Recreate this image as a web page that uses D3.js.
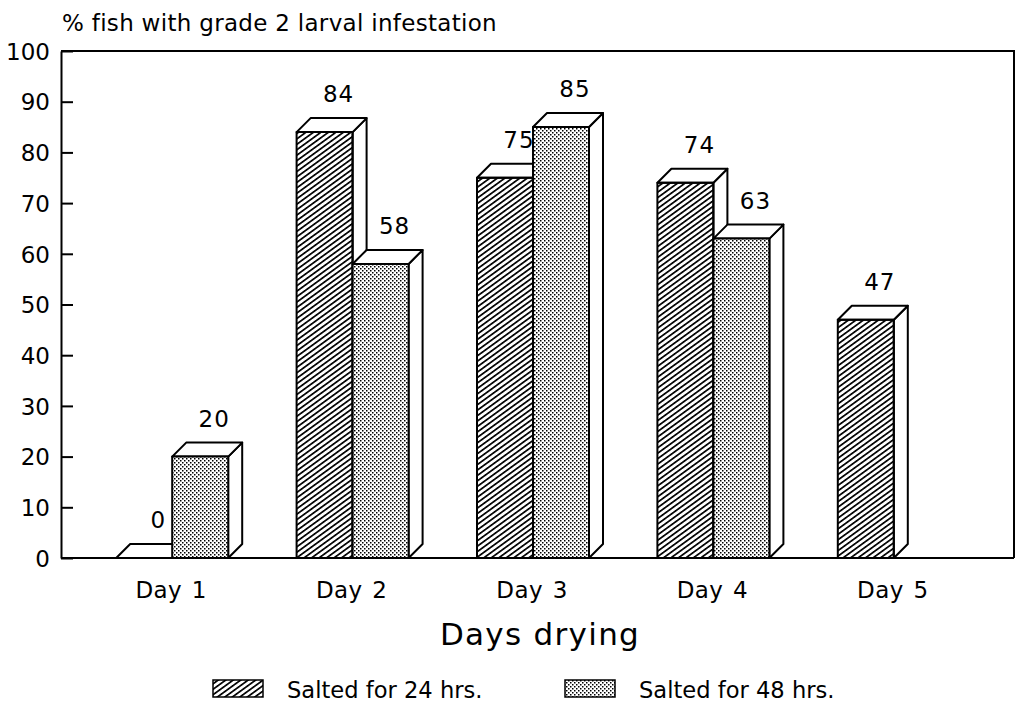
<!DOCTYPE html>
<html>
<head>
<meta charset="utf-8">
<script src="https://cdn.jsdelivr.net/npm/d3@7"></script>
<style>
  body { margin: 0; background: #fff; }
  text { font-family: "DejaVu Sans", sans-serif; fill: #000; }
</style>
</head>
<body>
<svg id="chart" width="1016" height="722"></svg>
<script>
// data
const days = ['Day 1', 'Day 2', 'Day 3', 'Day 4', 'Day 5'];
const salted24 = [0, 84, 75, 74, 47];
const salted48 = [20, 58, 85, 63, null];
const seriesNames = ['Salted for 24 hrs.', 'Salted for 48 hrs.'];
const yTicks = [0, 10, 20, 30, 40, 50, 60, 70, 80, 90, 100];

const svg = d3.select('#chart');
const plotL = 61, plotR = 1014, plotT = 51, plotB = 558;
const dx = 14, dy = 14;   // depth of the 3d boxes

// patterns
const defs = svg.append('defs');
defs.append('pattern')
    .attr('id', 'hatch')
    .attr('patternUnits', 'userSpaceOnUse')
    .attr('width', 8).attr('height', 4.4)
    .attr('patternTransform', 'rotate(-36)')
  .append('rect')
    .attr('width', 8).attr('height', 1.7)
    .attr('fill', '#000');

const dots = defs.append('pattern')
    .attr('id', 'dots')
    .attr('patternUnits', 'userSpaceOnUse')
    .attr('width', 4).attr('height', 4);
dots.append('rect').attr('width', 4).attr('height', 4).attr('fill', '#fff');
dots.append('rect').attr('x', 0).attr('y', 0).attr('width', 1.5).attr('height', 1.5).attr('fill', '#000');
dots.append('rect').attr('x', 2).attr('y', 2).attr('width', 1.5).attr('height', 1.5).attr('fill', '#000');

const fills = ['url(#hatch)', 'url(#dots)'];

const y = d3.scaleLinear().domain([0, 100]).range([plotB, plotT]);
const x0 = d3.scaleBand().domain(days).range([82, 984]);
const x1 = d3.scaleBand().domain(seriesNames).range([0, 112]);
const bw = x1.bandwidth();

// frame lines
const frame = svg.append('g').attr('stroke', '#000').attr('stroke-width', 2).attr('fill', 'none');
frame.append('path').attr('d', `M${plotL},${y(100)}H${plotR}V${y(0)}`);

// left axis, ticks point inward
const yAxis = svg.append('g')
    .attr('transform', `translate(${plotL},0)`)
    .call(d3.axisLeft(y).tickValues(yTicks).tickSizeInner(-12).tickSizeOuter(0).tickPadding(11));
yAxis.attr('font-family', null).attr('font-size', null);
yAxis.selectAll('line, path').attr('stroke', '#000').attr('stroke-width', 2);
yAxis.selectAll('text').style('font-size', '23px').attr('dy', '0.36em');

// bars
const rows = days.map((d, i) => ({ day: d, vals: [salted24[i], salted48[i]] }));
const barG = svg.append('g');
rows.forEach(r => {
  r.vals.forEach((v, s) => {
    if (v === null) return;
    const bx = x0(r.day) + x0.bandwidth() / 2 - 56 + x1(seriesNames[s]);
    const yt = y(v), yb = y(0);
    const g = barG.append('g').attr('stroke', '#000').attr('stroke-width', 2).attr('stroke-linejoin', 'round');
    // side face
    g.append('path').attr('fill', '#fff')
      .attr('d', `M${bx + bw},${yt}L${bx + bw + dx},${yt - dy}L${bx + bw + dx},${yb - dy}L${bx + bw},${yb}Z`);
    // top face
    g.append('path').attr('fill', '#fff')
      .attr('d', `M${bx},${yt}L${bx + dx},${yt - dy}L${bx + bw + dx},${yt - dy}L${bx + bw},${yt}Z`);
    // front face
    if (v > 0) {
      g.append('rect').attr('x', bx).attr('y', yt).attr('width', bw).attr('height', yb - yt)
        .attr('fill', fills[s]);
    }
    svg.append('text')
      .attr('x', bx + bw / 2 + dx)
      .attr('y', yt - dy - 16)
      .attr('text-anchor', 'middle')
      .style('font-size', '23px')
      .style('letter-spacing', '1px')
      .text(v);
  });
});

// baseline
svg.append('line').attr('x1', plotL).attr('x2', plotR).attr('y1', y(0)).attr('y2', y(0))
  .attr('stroke', '#000').attr('stroke-width', 2);

// day labels
svg.append('g').selectAll('text')
  .data(days)
  .join('text')
    .attr('x', d => x0(d) + x0.bandwidth() / 2 - 1)
    .attr('y', 598)
    .attr('text-anchor', 'middle')
    .style('font-size', '23px')
    .style('letter-spacing', '0.4px')
    .style('word-spacing', '2px')
    .text(d => d);

// titles
svg.append('text')
  .attr('x', 62).attr('y', 31)
  .style('font-size', '23px')
  .style('letter-spacing', '0.3px')
  .text('% fish with grade 2 larval infestation');

svg.append('text')
  .attr('x', 540).attr('y', 645)
  .attr('text-anchor', 'middle')
  .style('font-size', '31px')
  .style('letter-spacing', '1.3px')
  .text('Days drying');

// legend
const legendX = [213, 565];
const leg = svg.append('g');
seriesNames.forEach((name, i) => {
  leg.append('rect')
    .attr('x', legendX[i]).attr('y', 680).attr('width', 50).attr('height', 17)
    .attr('fill', fills[i]).attr('stroke', '#000').attr('stroke-width', 1.5);
  leg.append('text')
    .attr('x', legendX[i] + 74).attr('y', 698)
    .style('font-size', '22.6px')
    .text(name);
});
</script>
</body>
</html>
